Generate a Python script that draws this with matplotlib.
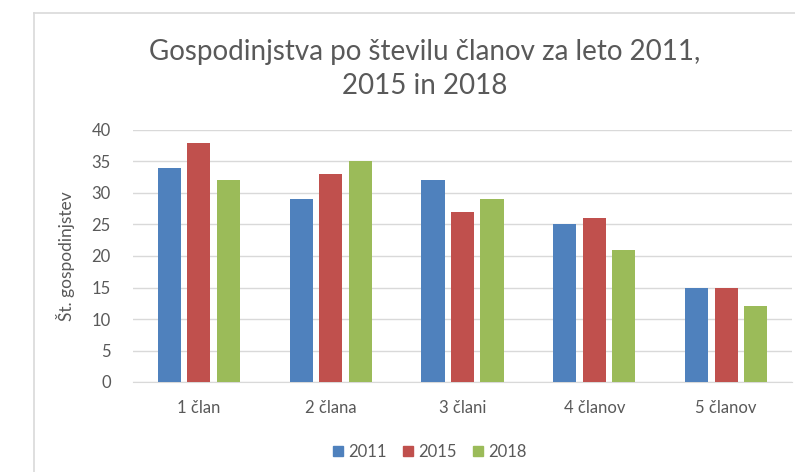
import matplotlib
matplotlib.use("Agg")
import matplotlib.pyplot as plt
import numpy as np
from matplotlib.patches import Rectangle
from matplotlib.lines import Line2D

categories = ["1 član", "2 člana", "3 člani", "4 članov", "5 članov"]
years = ["2011", "2015", "2018"]
values_2011 = [34, 29, 32, 25, 15]
values_2015 = [38, 33, 27, 26, 15]
values_2018 = [32, 35, 29, 21, 12]
series = [values_2011, values_2015, values_2018]
colors = ["#4F81BD", "#C0504D", "#9BBB59"]
yticks = [0, 5, 10, 15, 20, 25, 30, 35, 40]

plt.rcParams["font.family"] = ["Lato", "DejaVu Sans"]
text_color = "#595959"

W, H = 795, 472
fig = plt.figure(figsize=(W / 100, H / 100), dpi=100)

# chart frame (left and top edges visible)
fig.add_artist(Line2D([34 / W, 34 / W], [0, 1 - 13 / H], color="#D9D9D9", lw=1.2))
fig.add_artist(Line2D([34 / W, 1], [1 - 13 / H, 1 - 13 / H], color="#D9D9D9", lw=1.2))

left, right = 133 / W, 792 / W
bottom, top = 1 - 382 / H, 1 - 130 / H
ax = fig.add_axes([left, bottom, right - left, top - bottom])

x = np.arange(len(categories))
width = 0.175
step = 0.224
for i, (vals, c, yr) in enumerate(zip(series, colors, years)):
    ax.bar(x + (i - 1) * step, vals, width=width, color=c, label=yr, zorder=3)

ax.set_xlim(-0.5, len(categories) - 0.5)
ax.set_ylim(0, 40)
ax.set_yticks(yticks)
ax.set_xticks(x)
ax.set_xticklabels(categories)
ax.yaxis.grid(True, color="#D9D9D9", lw=1, zorder=0)
ax.set_axisbelow(True)
for s in ["top", "right", "left"]:
    ax.spines[s].set_visible(False)
ax.spines["bottom"].set_color("#D9D9D9")
ax.tick_params(axis="both", length=0, colors=text_color, labelsize=12)
ax.tick_params(axis="x", pad=13)
ax.tick_params(axis="y", pad=16)

ax.set_ylabel("Št. gospodinjstev", color=text_color, fontsize=12.5, labelpad=12)

fig.text(425 / W, 1 - 69 / H, "Gospodinjstva po številu članov za leto 2011,\n2015 in 2018",
         ha="center", va="center", fontsize=20, color=text_color, linespacing=1.42)

handles = [Rectangle((0, 0), 1, 1, color=c) for c in colors]
fig.legend(handles, years, loc="center", bbox_to_anchor=(430 / W, 1 - 452 / H), ncol=3,
           frameon=False, fontsize=12, labelcolor=text_color, handlelength=0.6,
           handleheight=0.6, handletextpad=0.3, columnspacing=1.0)

fig.savefig("out.png", dpi=100)
